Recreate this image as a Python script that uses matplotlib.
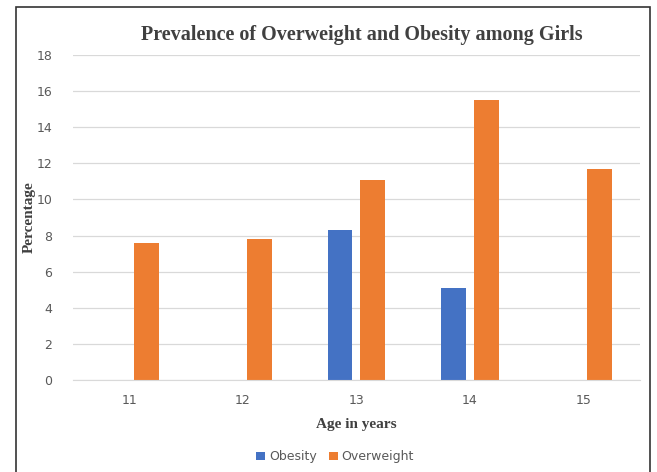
import matplotlib.pyplot as plt
import numpy as np
from matplotlib.patches import Rectangle

ages = ['11', '12', '13', '14', '15']
obesity = [0, 0, 8.3, 5.1, 0]
overweight = [7.6, 7.8, 11.1, 15.5, 11.7]

fig = plt.figure(figsize=(6.57, 4.72), dpi=100)
ax = fig.add_axes([0.111, 0.195, 0.863, 0.6885])

x = np.arange(len(ages))
w = 0.22
off = 0.145
ax.bar(x - off, obesity, w, color='#4472C4', label='Obesity')
ax.bar(x + off, overweight, w, color='#ED7D31', label='Overweight')

ax.set_xlim(-0.5, 4.5)
ax.set_ylim(0, 18)
ax.set_yticks(np.arange(0, 19, 2))
ax.set_xticks(x)
ax.set_xticklabels(ages)
ax.grid(axis='y', color='#d9d9d9', linewidth=0.9)
ax.set_axisbelow(True)
for s in ['top', 'right', 'left']:
    ax.spines[s].set_visible(False)
ax.spines['bottom'].set_color('#d9d9d9')
ax.tick_params(length=0, labelsize=9, colors='#595959', pad=15)
ax.tick_params(axis='x', pad=10)

ax.set_title('Prevalence of Overweight and Obesity among Girls', family='Liberation Serif',
             fontweight='bold', fontsize=14.5, color='#404040', pad=11, x=0.51)
ax.set_ylabel('Percentage', family='Liberation Serif', fontweight='bold', fontsize=11,
              color='#404040', labelpad=0)
ax.set_xlabel('Age in years', family='Liberation Serif', fontweight='bold', fontsize=11,
              color='#404040', labelpad=8)

fig.legend(loc='center', bbox_to_anchor=(0.51, 0.032), ncol=2, frameon=False,
           fontsize=9, handlelength=0.7, handleheight=0.7, handletextpad=0.3,
           columnspacing=1.0, labelcolor='#595959')

fig.patches.append(Rectangle((16 / 657, -0.05), (650 - 16) / 657, 1.05 - 7 / 472,
                             transform=fig.transFigure, fill=False,
                             edgecolor='#333333', linewidth=1.2))

fig.savefig('out.png', dpi=100)
